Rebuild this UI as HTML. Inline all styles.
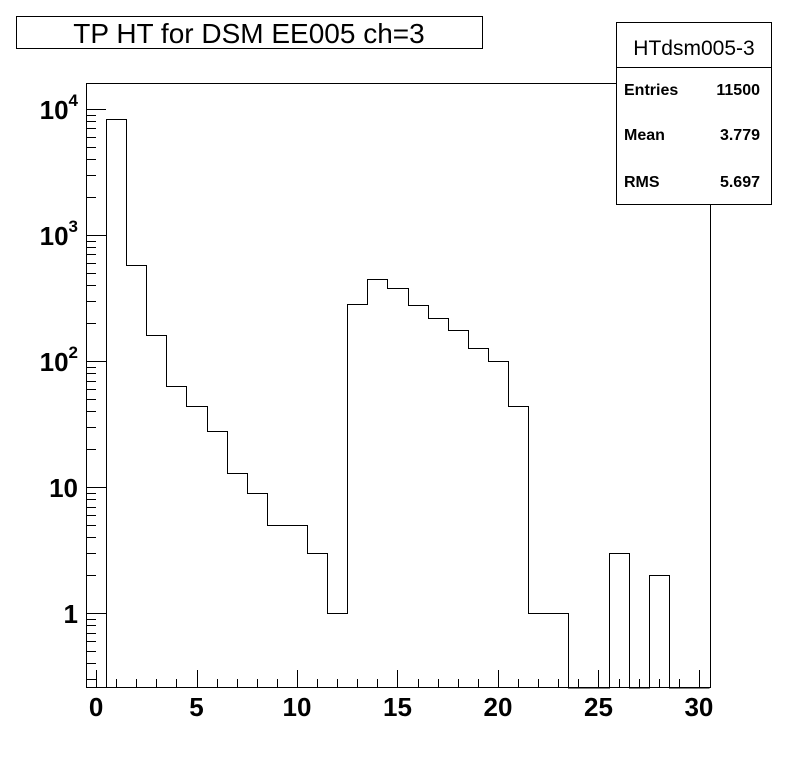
<!DOCTYPE html>
<html><head><meta charset="utf-8"><style>
html,body{margin:0;padding:0;background:#fff}
svg{display:block;font-family:"Liberation Sans",sans-serif}
</style></head><body>
<svg id="c" width="796" height="772" xmlns="http://www.w3.org/2000/svg">
<rect x="0" y="0" width="796" height="772" fill="#fff"/>
<g>
<rect x="16.5" y="16.5" width="466" height="32" fill="#fff" stroke="#000"/>
<text x="249" y="43" font-size="28" text-anchor="middle">TP HT for DSM EE005 ch=3</text>
</g>
<rect x="86.5" y="83.5" width="624" height="604" fill="none" stroke="#000"/>
<g id="axes"></g>
<path id="hist" fill="none" stroke="#000" stroke-width="1"/>
<g>
<rect x="616.5" y="22.5" width="155" height="182" fill="#fff" stroke="#000"/>
<line x1="616" y1="67.5" x2="772" y2="67.5" stroke="#000"/>
<text x="694" y="55" font-size="21" text-anchor="middle">HTdsm005-3</text>
<text x="624" y="95" font-size="16" font-weight="bold">Entries</text>
<text x="760" y="95" font-size="16" font-weight="bold" text-anchor="end">11500</text>
<text x="624" y="140" font-size="16" font-weight="bold">Mean</text>
<text x="760" y="140" font-size="16" font-weight="bold" text-anchor="end">3.779</text>
<text x="624" y="187" font-size="16" font-weight="bold">RMS</text>
<text x="760" y="187" font-size="16" font-weight="bold" text-anchor="end">5.697</text>
</g>
</svg>
<script>
const binLow = [0.5,1.5,2.5,3.5,4.5,5.5,6.5,7.5,8.5,9.5,10.5,11.5,12.5,13.5,14.5,15.5,16.5,17.5,18.5,19.5,20.5,21.5,22.5,23.5,24.5,25.5,26.5,27.5,28.5,29.5];
const counts = [8300,577,160,63,44,28,13,9,5,5,3,1,284,447,380,280,219,176,127,100,44,1,1,0,0,3,0,2,0,0];
const xTickLabels = [0,5,10,15,20,25,30];
const yDecades = [1,10,100,1000,10000];
const yDecadeLabels = ["1","10","10²","10³","10⁴"];

const X0=86, X1=711, Y0=688, Y1=83;
const xmin=-0.5, xmax=30.6, ymin=0.254, ymax=16070;
const xs = v => X0 + (v - xmin) / (xmax - xmin) * (X1 - X0);
const ys = v => Y0 - (Math.log10(v) - Math.log10(ymin)) / (Math.log10(ymax) - Math.log10(ymin)) * (Y0 - Y1);
const NS="http://www.w3.org/2000/svg";
const axes=document.getElementById('axes');
function line(x1,y1,x2,y2,name){
  const l=document.createElementNS(NS,'line');
  l.setAttribute('x1',x1);l.setAttribute('y1',y1);l.setAttribute('x2',x2);l.setAttribute('y2',y2);
  l.setAttribute('stroke','#000');
  
  
  axes.appendChild(l);
}
for(let v=0; v<=30; v++){
  const x=Math.round(xs(v))+0.5;
  const major = v%5===0;
  line(x,Y0,x,Y0-(major?18:9), major?'x-major-tick':'x-minor-tick');
}
xTickLabels.forEach(v=>{
  const t=document.createElementNS(NS,'text');
  t.setAttribute('x',xs(v));t.setAttribute('y',716);
  t.setAttribute('font-size','26');t.setAttribute('font-weight','bold');t.setAttribute('text-anchor','middle');
  t.textContent=v;
  
  
  axes.appendChild(t);
});
for(let d=0.1; d<=10000; d*=10){
  for(let m=1;m<10;m++){
    const v=d*m;
    if(v<ymin||v>ymax) continue;
    const y=Math.round(ys(v))+0.5;
    line(X0,y,X0+(m===1?20:10),y, m===1?'y-major-tick':'y-minor-tick');
  }
}
yDecades.forEach((v,i)=>{
  const t=document.createElementNS(NS,'text');
  t.setAttribute('x',78);t.setAttribute('y',ys(v)+10);
  t.setAttribute('font-size','26');t.setAttribute('font-weight','bold');t.setAttribute('text-anchor','end');
  const lab=yDecadeLabels[i];
  if(lab.length>2){
    t.textContent='10';
    const s=document.createElementNS(NS,'tspan');
    s.setAttribute('dy','-13');s.setAttribute('font-size','17');
    s.textContent=({'²':'2','³':'3','⁴':'4'})[lab[2]];
    t.appendChild(s);
  } else t.textContent=lab;
  
  
  axes.appendChild(t);
});
let d='';
const yOf = c => c>0 ? Math.round(ys(c))+0.5 : Y0;
binLow.forEach((lo,i)=>{
  const xa=Math.round(xs(lo))+0.5, xb=Math.round(xs(lo+1))+0.5;
  const y=yOf(counts[i]);
  if(i===0) d+='M'+xa+','+Y0;
  d+=' L'+xa+','+y+' L'+xb+','+y;
});
document.getElementById('hist').setAttribute('d',d);
</script>
</body></html>
